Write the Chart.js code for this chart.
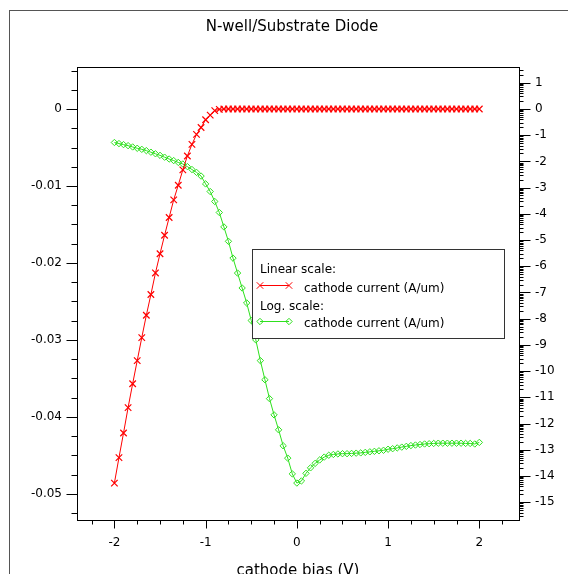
<!DOCTYPE html>
<html>
<head>
<meta charset="utf-8">
<script src="https://cdn.jsdelivr.net/npm/chart.js@4.4.1/dist/chart.umd.min.js"></script>
<style>
  html, body { margin: 0; padding: 0; background: #fff; }
</style>
</head>
<body>
<canvas id="diode" width="568" height="574"></canvas>
<script>
// cathode bias sweep (V)
const biasV = [
  -2.00, -1.95, -1.90, -1.85, -1.80, -1.75, -1.70, -1.65, -1.60, -1.55,
  -1.50, -1.45, -1.40, -1.35, -1.30, -1.25, -1.20, -1.15, -1.10, -1.05,
  -1.00, -0.95, -0.90, -0.85, -0.80, -0.75, -0.70, -0.65, -0.60, -0.55,
  -0.50, -0.45, -0.40, -0.35, -0.30, -0.25, -0.20, -0.15, -0.10, -0.05,
   0.00,  0.05,  0.10,  0.15,  0.20,  0.25,  0.30,  0.35,  0.40,  0.45,
   0.50,  0.55,  0.60,  0.65,  0.70,  0.75,  0.80,  0.85,  0.90,  0.95,
   1.00,  1.05,  1.10,  1.15,  1.20,  1.25,  1.30,  1.35,  1.40,  1.45,
   1.50,  1.55,  1.60,  1.65,  1.70,  1.75,  1.80,  1.85,  1.90,  1.95,
   2.00
]

// cathode current, linear scale (A/um)
const linearCurrent = [
  -0.0486, -0.0453, -0.0421, -0.0388, -0.0357, -0.0327, -0.0297, -0.0268, -0.0241, -0.0213,
  -0.0188, -0.0164, -0.0141, -0.0118, -0.0099, -0.0079, -0.0061, -0.0046, -0.0033, -0.0024,
  -0.0014, -0.0008, -0.0002, -0.00005, 0, 0, 0, 0, 0, 0,
  0, 0, 0, 0, 0, 0, 0, 0, 0, 0,
  0, 0, 0, 0, 0, 0, 0, 0, 0, 0,
  0, 0, 0, 0, 0, 0, 0, 0, 0, 0,
  0, 0, 0, 0, 0, 0, 0, 0, 0, 0,
  0, 0, 0, 0, 0, 0, 0, 0, 0, 0,
  0
]

// cathode current, log scale (exponent)
const logCurrent = [
  -1.28, -1.32, -1.36, -1.40, -1.45, -1.50, -1.54, -1.59, -1.65, -1.71,
  -1.77, -1.84, -1.91, -1.97, -2.04, -2.10, -2.20, -2.31, -2.42, -2.56,
  -2.86, -3.15, -3.53, -3.95, -4.50, -5.05, -5.69, -6.26, -6.83, -7.40,
  -8.07, -8.81, -9.60, -10.33, -11.05, -11.67, -12.24, -12.85, -13.32, -13.92,
  -14.27, -14.19, -13.90, -13.69, -13.52, -13.39, -13.28, -13.21, -13.18, -13.16,
  -13.15, -13.15, -13.14, -13.13, -13.12, -13.10, -13.08, -13.06, -13.04, -13.02,
  -12.98, -12.96, -12.93, -12.90, -12.87, -12.84, -12.82, -12.80, -12.78, -12.77,
  -12.76, -12.75, -12.75, -12.75, -12.75, -12.75, -12.75, -12.76, -12.76, -12.78,
  -12.72
]

const xTicks = [-2, -1, 0, 1, 2]
const linearTicks = [0, -0.01, -0.02, -0.03, -0.04, -0.05]
const logTicks = [1, 0, -1, -2, -3, -4, -5, -6, -7, -8, -9, -10, -11, -12, -13, -14, -15]

const RED = "#ff0000"
const GREEN = "#2ee01e"
const FONT = "DejaVu Sans"

Chart.defaults.font.family = FONT
Chart.defaults.font.size = 12
Chart.defaults.color = "#000"

function tickList(values) {
  return scale => { scale.ticks = values.map(v => ({ value: v })) }
}

// frame, tick marks, titles and the two-part legend
const decorations = {
  id: "decorations",
  afterDatasetsDraw(chart) {
    const { ctx, chartArea: a, scales } = chart
    const snap = v => Math.round(v) + 0.5
    const line = (x1, y1, x2, y2) => {
      ctx.beginPath()
      ctx.moveTo(x1, y1)
      ctx.lineTo(x2, y2)
      ctx.stroke()
    }
    ctx.save()
    ctx.lineWidth = 1

    ctx.strokeStyle = "#555"
    ctx.strokeRect(9.5, 10.5, 700, 700)

    ctx.strokeStyle = "#000"
    const L = snap(a.left), R = snap(a.right), T = snap(a.top), B = snap(a.bottom)
    ctx.strokeRect(L, T, R - L, B - T)

    // bottom axis: major every 1, minor every 0.25
    const sx = scales.x
    for (let i = -12; i <= 12; i++) {
      const v = i * 0.25
      if (v < sx.min || v > sx.max) continue
      const p = snap(sx.getPixelForValue(v))
      line(p, B, p, B + (i % 4 === 0 ? 8 : 4))
    }

    // left axis: major every 0.01, minor every 0.0025
    const sy = scales.y
    for (let i = -24; i <= 4; i++) {
      const v = i * 0.0025
      if (v < sy.min || v > sy.max) continue
      const p = snap(sy.getPixelForValue(v))
      line(L, p, L - (i % 4 === 0 ? 11 : 6), p)
    }

    // right axis: decades with log minor ticks
    const sl = scales.y2
    for (let n = -16; n <= 1; n++) {
      for (let k = 1; k <= 9; k++) {
        const v = n + Math.log10(k)
        if (v < sl.min || v > sl.max) continue
        const p = snap(sl.getPixelForValue(v))
        line(R, p, R + (k === 1 ? 11 : 4), p)
      }
    }

    // titles
    ctx.fillStyle = "#000"
    ctx.textAlign = "center"
    ctx.textBaseline = "alphabetic"
    ctx.font = `15px "${FONT}"`
    ctx.fillText("N-well/Substrate Diode", 292, 31)
    ctx.fillText("cathode bias (V)", (a.left + a.right) / 2, 575)

    // legend
    const bx = 252.5, by = 249.5, bw = 252, bh = 89
    ctx.fillStyle = "#fff"
    ctx.fillRect(bx, by, bw, bh)
    ctx.strokeStyle = "#333"
    ctx.strokeRect(bx, by, bw, bh)

    ctx.font = `12px "${FONT}"`
    ctx.fillStyle = "#000"
    ctx.textAlign = "left"
    ctx.fillText("Linear scale:", 260, 272.5)
    ctx.fillText("cathode current (A/um)", 304, 292)
    ctx.fillText("Log. scale:", 260, 310)
    ctx.fillText("cathode current (A/um)", 304, 327)

    const ds = chart.data.datasets
    const sample = (d, y) => {
      ctx.strokeStyle = d.borderColor
      ctx.fillStyle = "rgba(0,0,0,0)"
      line(260, y, 289, y)
      const opts = { pointStyle: d.pointStyle, radius: d.pointRadius, rotation: 0, borderWidth: 1 }
      Chart.helpers.drawPoint(ctx, opts, 260, y)
      Chart.helpers.drawPoint(ctx, opts, 289, y)
    }
    sample(ds[0], 285.5)
    sample(ds[1], 321.5)

    ctx.restore()
  }
}

new Chart(document.getElementById("diode"), {
  type: "line",
  data: {
    datasets: [
      {
        label: "Linear scale: cathode current (A/um)",
        data: biasV.map((x, i) => ({ x, y: linearCurrent[i] })),
        yAxisID: "y",
        borderColor: RED,
        borderWidth: 1,
        pointStyle: "crossRot",
        pointRadius: 4.6,
        pointBorderColor: RED,
        pointBorderWidth: 1.2,
        pointBackgroundColor: RED,
        tension: 0
      },
      {
        label: "Log. scale: cathode current (A/um)",
        data: biasV.map((x, i) => ({ x, y: logCurrent[i] })),
        yAxisID: "y2",
        borderColor: GREEN,
        borderWidth: 1,
        pointStyle: "rectRot",
        pointRadius: 3.2,
        pointBorderColor: GREEN,
        pointBorderWidth: 1,
        pointBackgroundColor: "rgba(0,0,0,0)",
        tension: 0
      }
    ]
  },
  options: {
    responsive: false,
    animation: false,
    layout: { padding: { top: 67, left: 0, right: 0, bottom: 0 } },
    plugins: {
      legend: { display: false },
      tooltip: { enabled: false },
      title: { display: false }
    },
    scales: {
      x: {
        type: "linear",
        position: "bottom",
        min: -2.41,
        max: 2.435,
        afterBuildTicks: tickList(xTicks),
        afterFit: s => { s.height = 54 },
        grid: { display: false, drawTicks: false },
        border: { display: false },
        ticks: { padding: 16, maxRotation: 0, autoSkip: false, callback: v => String(v) }
      },
      y: {
        type: "linear",
        position: "left",
        min: -0.0534,
        max: 0.00546,
        afterBuildTicks: tickList(linearTicks),
        afterFit: s => { s.width = 77 },
        grid: { display: false, drawTicks: false },
        border: { display: false },
        ticks: { padding: 15, autoSkip: false, callback: v => v === 0 ? "0" : v.toFixed(2) }
      },
      y2: {
        type: "linear",
        position: "right",
        min: -15.68,
        max: 1.6,
        afterBuildTicks: tickList(logTicks),
        afterFit: s => { s.width = 49 },
        grid: { display: false, drawTicks: false },
        border: { display: false },
        ticks: { padding: 16, autoSkip: false, callback: v => String(v) }
      }
    }
  },
  plugins: [decorations]
})
</script>
</body>
</html>
